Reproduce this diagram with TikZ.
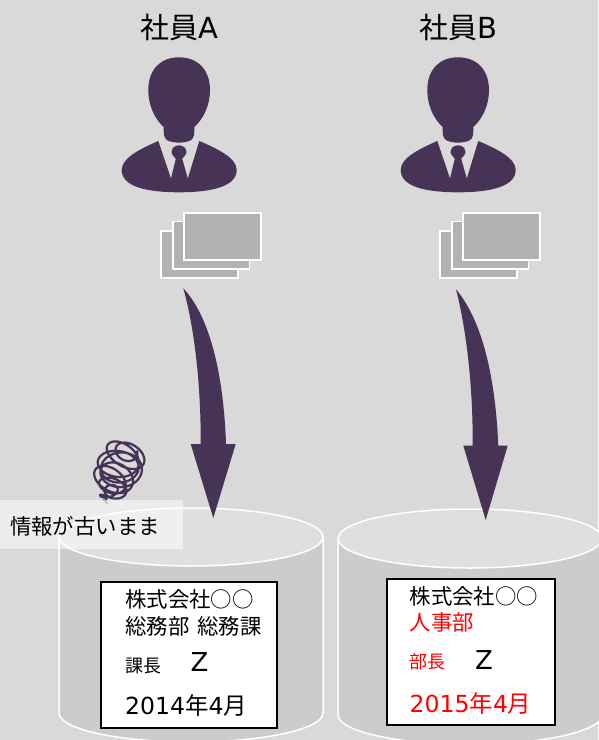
\documentclass[tikz,border=0pt]{standalone}
\usepackage{fontspec}
\setmainfont{DejaVu Sans}
\newfontfamily\cjk{Noto Sans CJK JP}
\definecolor{bgc}{HTML}{D9D9D9}
\definecolor{ink}{HTML}{463355}
\definecolor{paperc}{HTML}{B2B2B2}
\definecolor{cylbody}{HTML}{CCCCCC}
\definecolor{cyltop}{HTML}{DFDFDF}
\definecolor{redtxt}{HTML}{FF0000}
\tikzset{
  paper/.style={fill=paperc,draw=white,line width=1.6pt},
  cylline/.style={draw=white,line width=1.5pt},
  card/.style={draw=black,line width=1.9pt,fill=white},
  title/.style={font=\fontsize{29}{32}\selectfont,anchor=center,text=black},
  txt/.style={anchor=base west,font=\fontsize{21.4}{24}\selectfont,inner sep=0pt,text=black},
  datetxt/.style={anchor=base west,font=\fontsize{23.5}{26}\selectfont,inner sep=0pt,text=black},
  small/.style={anchor=base west,font=\fontsize{18}{20}\selectfont,inner sep=0pt,text=black},
  bigz/.style={anchor=base west,font=\fontsize{26}{30}\selectfont,inner sep=0pt,text=black},
}
\newcommand{\personfig}[1]{%
  \begin{scope}[xshift=#1]
    % head
    \fill[ink] (179,57.3) .. controls (160,57.3) and (148.3,70) .. (148.3,90)
      .. controls (148.3,106) and (155,119) .. (163.6,127)
      .. controls (163.6,134) and (163.8,138) .. (167,140)
      .. controls (172,143.5) and (186,143.5) .. (191,140)
      .. controls (194.2,138) and (194.4,134) .. (194.4,127)
      .. controls (203,119) and (210,106) .. (210,90)
      .. controls (210,70) and (198,57.3) .. (179,57.3) -- cycle;
    % body with collar
    \fill[ink] (158.3,141) .. controls (140,149) and (121.7,158) .. (121.7,170)
      .. controls (121.7,186) and (145,192.3) .. (179,192.3)
      .. controls (213,192.3) and (236.7,186) .. (236.7,170)
      .. controls (236.7,158) and (218,149) .. (199.3,141)
      -- (187.8,178.5) -- (182,158) -- (176,158) -- (171,178.5) -- cycle;
    % knot
    \fill[ink] (179,145.3) .. controls (184,145.3) and (186.5,149) .. (186.5,152)
      .. controls (186.5,155) and (183,157) .. (182,159)
      -- (176,159) .. controls (175,157) and (171.5,155) .. (171.5,152)
      .. controls (171.5,149) and (174,145.3) .. (179,145.3) -- cycle;
    % papers
    \draw[paper] (161,230.7) rectangle (238,278);
    \draw[paper] (172.7,221.3) rectangle (249.3,268.7);
    \draw[paper] (183.7,213) rectangle (260.7,260);
  \end{scope}}
\begin{document}
\begin{tikzpicture}[x=1pt,y=-1pt]
\useasboundingbox (0,0) rectangle (598,740);
\fill[bgc] (0,0) rectangle (598,740);

\node[title] (ta) at (179,28) {{\cjk 社員}A};
\node[title] (tb) at (458,28) {{\cjk 社員}B};

\personfig{0pt}
\personfig{279pt}

% left cylinder
\fill[cylbody,draw=white,line width=1.5pt] (59,537) -- (59,713) .. controls (59,729) and (118,742) .. (191,742)
  .. controls (264,742) and (323,729) .. (323,713) -- (323,537) -- cycle;
\draw[cylline,fill=cyltop] (191,537) ellipse [x radius=132,y radius=29];

% right cylinder
\fill[cylbody,draw=white,line width=1.5pt] (338,538.5) -- (338,715) .. controls (338,731) and (397,744.5) .. (470,744.5)
  .. controls (543,744.5) and (602,731) .. (602,715) -- (602,538.5) -- cycle;
\draw[cylline,fill=cyltop] (470,538.5) ellipse [x radius=132,y radius=29.5];

% arrows
\fill[ink] (183.3,288.3) .. controls (191,315) and (201,370) .. (200.7,444)
  -- (190.7,444) -- (213.3,518) -- (235.7,444) -- (226,444)
  .. controls (224,385) and (213,320) .. (183.3,288.3) -- cycle;
\fill[ink] (456,289.3) .. controls (464,320) and (473,375) .. (472.7,445.7)
  -- (463.3,445.7) -- (485.7,520) -- (507.7,445.7) -- (498.3,445.7)
  .. controls (496,390) and (486,325) .. (456,289.3) -- cycle;

% squiggle
\draw[ink,line width=2.2pt,line join=round,smooth] plot[samples=400,domain=0:1,variable=\t]
  ({127-20*\t+4*sin(1000*\t)+(10*(1-\t)+3*\t+13*sin(180*pow(\t,0.8)))*cos(3240*\t)},
   {449+50*\t+2*sin(1500*\t)+0.85*(9*(1-\t)+2*\t+12*sin(180*pow(\t,0.8)))*sin(3240*\t)+(0.15+0.2*sin(700*\t))*(10*(1-\t)+13*sin(180*pow(\t,0.8)))*cos(3240*\t)});
\draw[ink!50!bgc,line width=2pt] (103,499) -- (108,504);

% note
\fill[white,fill opacity=0.5] (0,500) rectangle (183,549);
\node[txt] (note) at (10,534) {\cjk 情報が古いまま};

% cards
\draw[card] (101.3,582.3) rectangle (277,727.7);
\node[txt] (a1) at (125,607) {\cjk 株式会社○○};
\node[txt] (a2) at (125,634) {\cjk 総務部\hspace{8pt}総務課};
\node[small] (a3) at (125,672) {\cjk 課長};
\node[bigz] (a4) at (190.5,671) {Z};
\node[datetxt] (a5) at (125,714) {2014{\cjk 年}4{\cjk 月}};

\draw[card] (387,579) rectangle (555,725);
\node[txt] (b1) at (409.5,604) {\cjk 株式会社○○};
\node[txt,text=redtxt] (b2) at (409.5,630) {\cjk 人事部};
\node[small,text=redtxt] (b3) at (409.5,668) {\cjk 部長};
\node[bigz] (b4) at (475,669) {Z};
\node[datetxt,text=redtxt] (b5) at (409.5,712) {2015{\cjk 年}4{\cjk 月}};
\end{tikzpicture}
\end{document}
